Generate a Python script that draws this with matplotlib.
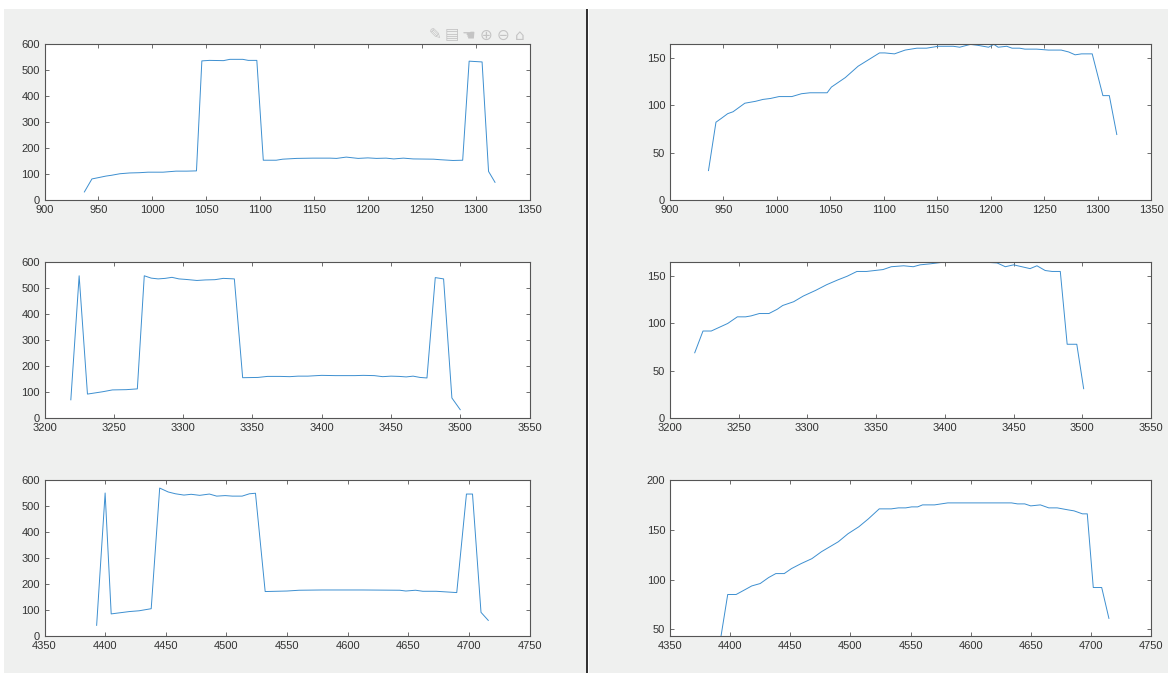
import matplotlib
matplotlib.use('Agg')
import matplotlib.pyplot as plt
from matplotlib.patches import Rectangle

# 데이터 (화면에서 읽은 값)
top_left_x = [937, 944, 950, 957, 962, 970, 979, 988, 996, 1010, 1016, 1022, 1032, 1041, 1046,
              1053, 1066, 1072, 1084, 1089, 1097, 1103, 1115, 1121, 1134, 1149, 1165, 1171, 1180,
              1191, 1200, 1208, 1217, 1224, 1233, 1242, 1261, 1267, 1279, 1288, 1294, 1306, 1312, 1318]
top_left_y = [31, 81, 86, 92, 95, 101, 104, 105, 107, 107, 109, 111, 111, 112, 535,
              537, 536, 541, 541, 537, 537, 153, 153, 157, 160, 161, 161, 160, 165,
              160, 162, 160, 161, 158, 161, 158, 157, 155, 152, 153, 534, 531, 110, 68]

top_right_x = [936, 943, 948, 954, 959, 970, 980, 987, 994, 1002, 1014, 1023, 1031, 1047, 1051,
               1064, 1076, 1086, 1096, 1101, 1110, 1120, 1131, 1140, 1151, 1165, 1171, 1181, 1188,
               1198, 1203, 1207, 1215, 1220, 1227, 1232, 1243, 1254, 1266, 1273, 1279, 1285, 1295,
               1305, 1311, 1318]
top_right_y = [31, 82, 86, 91, 93, 102, 104, 106, 107, 109, 109, 112, 113, 113, 119,
               129, 141, 148, 155, 155, 154, 158, 160, 160, 162, 162, 161, 164, 163,
               161, 164, 161, 162, 160, 160, 159, 159, 158, 158, 156, 153, 154, 154,
               110, 110, 69]

mid_left_x = [3219, 3225, 3231, 3242, 3249, 3259, 3267, 3272, 3277, 3282, 3287, 3292, 3297, 3302,
              3310, 3316, 3323, 3329, 3337, 3343, 3354, 3361, 3370, 3377, 3383, 3390, 3400, 3410,
              3424, 3430, 3438, 3444, 3450, 3456, 3461, 3466, 3471, 3476, 3482, 3488, 3494, 3500]
mid_left_y = [70, 547, 92, 101, 108, 109, 112, 547, 538, 535, 537, 541, 535, 533,
              529, 531, 532, 537, 535, 155, 156, 160, 160, 159, 161, 161, 164, 163,
              163, 164, 163, 159, 161, 160, 158, 161, 156, 154, 540, 535, 77, 32]

mid_right_x = [3218, 3224, 3230, 3236, 3242, 3249, 3255, 3259, 3265, 3272, 3278, 3282, 3290, 3297,
               3306, 3314, 3322, 3329, 3336, 3343, 3349, 3355, 3361, 3370, 3377, 3382, 3389, 3400,
               3427, 3438, 3444, 3450, 3456, 3462, 3467, 3473, 3478, 3484, 3489, 3496, 3501]
mid_right_y = [69, 92, 92, 96, 100, 107, 107, 108, 110.5, 110.5, 115, 119, 123, 129,
               135, 141, 146, 150, 155, 155, 156, 157, 160, 161, 160, 162, 163, 165,
               165, 164, 160, 162, 160, 158, 161, 156, 155, 155, 78, 78, 31]

bot_left_x = [4393, 4400, 4405, 4420, 4428, 4438, 4445, 4452, 4458, 4465, 4471, 4478, 4486, 4492,
              4499, 4505, 4513, 4519, 4524, 4532, 4541, 4550, 4560, 4579, 4612, 4643, 4648, 4656,
              4662, 4673, 4690, 4698, 4703, 4710, 4716]
bot_left_y = [41, 550, 85, 94, 97, 105, 569, 554, 547, 542, 545, 541, 546, 538,
              540, 538, 538, 547, 549, 171, 172, 173, 176, 177, 177, 176, 173, 176,
              172, 172, 167, 546, 546, 91, 60]

bot_right_x = [4392, 4398, 4405, 4412, 4418, 4425, 4432, 4438, 4445, 4451, 4459, 4468, 4476, 4483,
               4490, 4498, 4507, 4515, 4524, 4534, 4540, 4546, 4551, 4556, 4560, 4570, 4581, 4634,
               4639, 4645, 4650, 4658, 4665, 4672, 4681, 4686, 4693, 4697, 4702, 4709, 4715]
bot_right_y = [40, 85, 85, 89.6, 93.6, 96, 102, 106, 106, 111, 116, 121, 128, 133,
               138, 146, 153, 161, 171, 171, 172, 172, 173, 173, 175, 175, 177, 177,
               176, 176, 174, 175, 172, 172, 170, 169, 166, 166, 92, 92, 61]

# 축 범위
xlims = [(900, 1350), (3200, 3550), (4350, 4750)]
left_ylim = (0, 600)
right_ylims = [(0, 164.4), (0, 165), (43.3, 200)]
right_yticks = [[0, 50, 100, 150], [0, 50, 100, 150], [50, 100, 150, 200]]

W, H = 1168, 673
BG = '#eff0ef'
LINE = '#3d8fd0'
AXC = '#555555'

plt.rcParams['font.family'] = ['Liberation Sans', 'DejaVu Sans']

fig = plt.figure(figsize=(W / 100, H / 100), dpi=100, facecolor='white')


def box(l, t, r, b):
    return [l / W, 1 - b / H, (r - l) / W, (b - t) / H]


# 회색 패널 + 구분선
fig.patches.append(Rectangle((4 / W, 0), (586 - 4) / W, 1 - 9 / H, transform=fig.transFigure,
                             facecolor=BG, edgecolor='none', zorder=-10))
fig.patches.append(Rectangle((589 / W, 0), (W - 589) / W, 1 - 9 / H, transform=fig.transFigure,
                             facecolor=BG, edgecolor='none', zorder=-10))
fig.patches.append(Rectangle((586 / W, 0), 2.2 / W, 1 - 9 / H, transform=fig.transFigure,
                             facecolor='#333333', edgecolor='none', zorder=-9))

rows = [(44, 200), (262, 418), (480, 636)]
left_data = [(top_left_x, top_left_y), (mid_left_x, mid_left_y), (bot_left_x, bot_left_y)]
right_data = [(top_right_x, top_right_y), (mid_right_x, mid_right_y), (bot_right_x, bot_right_y)]


def ax_style(ax):
    ax.set_facecolor('white')
    for s in ax.spines.values():
        s.set_color(AXC)
        s.set_linewidth(0.8)
    ax.tick_params(direction='in', length=3, width=0.6, color=AXC, labelsize=8,
                   labelcolor='#333333', top=True, right=True, pad=3.5)


for i, (t, b) in enumerate(rows):
    ax = fig.add_axes(box(44.5, t, 529.5, b))
    ax_style(ax)
    x, y = left_data[i]
    ax.plot(x, y, color=LINE, lw=0.7)
    ax.set_xlim(*xlims[i])
    ax.set_ylim(*left_ylim)
    ax.set_yticks(range(0, 601, 100))

    ax = fig.add_axes(box(670, t, 1151, b))
    ax_style(ax)
    x, y = right_data[i]
    ax.plot(x, y, color=LINE, lw=0.7)
    ax.set_xlim(*xlims[i])
    ax.set_ylim(*right_ylims[i])
    ax.set_yticks(right_yticks[i])

# 툴바 아이콘
icons = ['✎', '▤', '☚', '⊕', '⊖', '⌂']
for k, ch in enumerate(icons):
    fig.text((435 + 17 * k) / W, 1 - 35 / H, ch, ha='center', va='center', fontsize=11,
             color='#c4c4c4', family='DejaVu Sans')

plt.savefig('out.png', dpi=100, facecolor='white')
